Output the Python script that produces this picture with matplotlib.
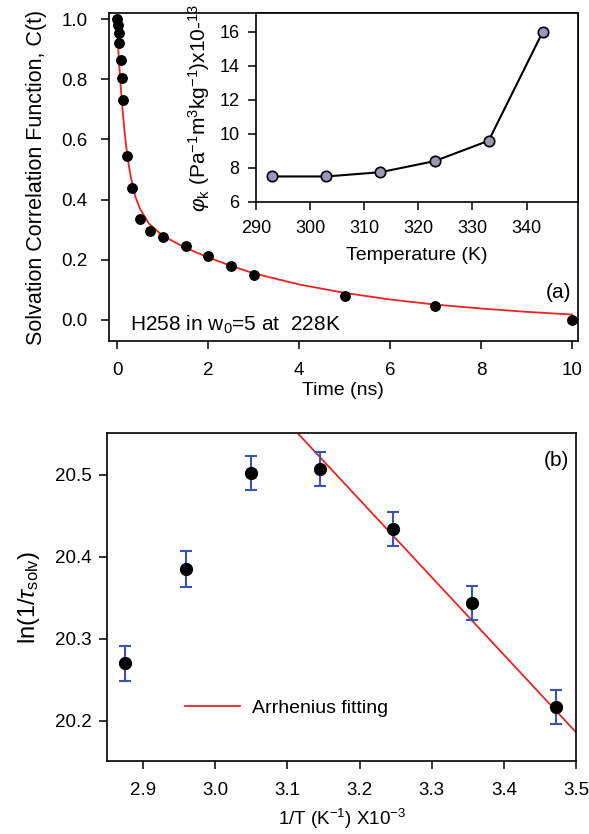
import numpy as np
import matplotlib.pyplot as plt

plt.rcParams['font.family'] = ['Liberation Sans', 'DejaVu Sans']
plt.rcParams['mathtext.fontset'] = 'custom'
plt.rcParams['mathtext.rm'] = 'Liberation Sans'
plt.rcParams['mathtext.it'] = 'Liberation Sans:italic'

# panel (a): solvation correlation data
t_ns = [0.0, 0.01, 0.03, 0.05, 0.08, 0.1, 0.12, 0.21, 0.32, 0.51, 0.72, 1.0, 1.52, 2.0, 2.5, 3.0, 5.0, 7.0, 10.0]
c_t = [1.0, 0.98, 0.952, 0.922, 0.864, 0.805, 0.731, 0.546, 0.44, 0.336, 0.296, 0.275, 0.247, 0.214, 0.179, 0.15, 0.078, 0.045, 0.0]

# fitted curve
fit_t = [0.0, 0.01, 0.02, 0.04, 0.06, 0.08, 0.1, 0.13, 0.16, 0.2, 0.25, 0.3, 0.4, 0.5, 0.7, 1.0, 1.5, 2.0, 2.5, 3.0, 4.0, 5.0, 6.0, 7.0, 8.0, 9.0, 10.0]
fit_c = [1.0, 0.955, 0.915, 0.86, 0.815, 0.775, 0.735, 0.68, 0.63, 0.575, 0.52, 0.475, 0.41, 0.37, 0.32, 0.28, 0.24, 0.208, 0.18, 0.155, 0.118, 0.09, 0.068, 0.051, 0.038, 0.027, 0.018]

# inset
temp_k = [293, 303, 313, 323, 333, 343]
phi_k = [7.5, 7.5, 7.75, 8.4, 9.6, 16.0]

# panel (b): Arrhenius
inv_t = [2.875, 2.96, 3.05, 3.145, 3.247, 3.356, 3.472]
ln_rate = [20.27, 20.385, 20.502, 20.507, 20.434, 20.344, 20.217]
ln_err = [0.021, 0.022, 0.021, 0.021, 0.021, 0.021, 0.021]
arr_x = [3.114, 3.5]
arr_y = [20.551, 20.186]

fig = plt.figure(figsize=(5.89, 8.34), dpi=100)

def style(ax, size=13.5, xpad=9, ypad=9):
    for s in ax.spines.values():
        s.set_linewidth(1.2)
    ax.tick_params(direction='out', length=6, width=1.1, labelsize=size)
    ax.tick_params(axis='x', pad=xpad)
    ax.tick_params(axis='y', pad=ypad)

ax1 = fig.add_axes([0.185, 0.5911, 0.796, 0.3933])
ax1.plot(fit_t, fit_c, color='#ee2222', lw=1.3, zorder=2)
ax1.plot(t_ns, c_t, 'o', color='black', ms=6.8, zorder=3)
ax1.set_xlim(-0.18, 10.13)
ax1.set_ylim(-0.07, 1.02)
ax1.set_xticks([0, 2, 4, 6, 8, 10])
ax1.set_yticks([0.0, 0.2, 0.4, 0.6, 0.8, 1.0])
ax1.yaxis.set_major_formatter(plt.FormatStrFormatter('%.1f'))
ax1.set_xlabel('Time (ns)', fontsize=14, labelpad=2)
ax1.set_ylabel('Solvation Correlation Function, C(t)', fontsize=15.5, labelpad=10)
ax1.text(0.045, 0.03, 'H258 in w$_0$=5 at  228K', transform=ax1.transAxes, fontsize=15)
ax1.text(0.985, 0.13, '(a)', transform=ax1.transAxes, fontsize=15, ha='right')
style(ax1, xpad=9, ypad=9.5)

ins = fig.add_axes([0.4346, 0.7578, 0.5467, 0.2266])
ins.plot(temp_k, phi_k, '-o', color='black', lw=1.5, ms=7.5,
         markerfacecolor='#9999b3', markeredgecolor='black', markeredgewidth=1.2)
ins.set_xlim(290, 349.5)
ins.set_ylim(6, 17.1)
ins.set_xticks([290, 300, 310, 320, 330, 340])
ins.set_yticks([6, 8, 10, 12, 14, 16])
ins.set_xlabel('Temperature (K)', fontsize=14, labelpad=7)
ins.set_ylabel('$\\varphi_{\\rm k}$ (Pa$^{-1}$m$^3$kg$^{-1}$)x10-$^{13}$', fontsize=15, labelpad=5)
style(ins, size=13, xpad=7, ypad=6)

ax2 = fig.add_axes([0.1817, 0.0875, 0.7963, 0.3933])
ax2.plot(arr_x, arr_y, color='#ee2222', lw=1.3, label='Arrhenius fitting', zorder=2)
ax2.errorbar(inv_t, ln_rate, yerr=ln_err, fmt='o', color='black', ms=8.5,
             ecolor='#3a55b0', elinewidth=1.5, capsize=4.5, capthick=1.5, zorder=3)
ax2.set_xlim(2.85, 3.5)
ax2.set_ylim(20.151, 20.551)
ax2.set_xticks([2.9, 3.0, 3.1, 3.2, 3.3, 3.4, 3.5])
ax2.set_yticks([20.2, 20.3, 20.4, 20.5])
ax2.xaxis.set_major_formatter(plt.FormatStrFormatter('%.1f'))
ax2.set_xlabel('1/T (K$^{-1}$) X10$^{-3}$', fontsize=13.5, labelpad=6)
ax2.set_ylabel('ln(1/$\\tau_{\\rm solv}$)', fontsize=17, labelpad=9)
ax2.text(0.985, 0.9, '(b)', transform=ax2.transAxes, fontsize=15, ha='right')
ax2.legend(loc='lower left', bbox_to_anchor=(0.13, 0.08), frameon=False, fontsize=14,
           handlelength=2.8, handletextpad=0.6)
style(ax2, xpad=9, ypad=5)

fig.savefig('out.png', dpi=100)
